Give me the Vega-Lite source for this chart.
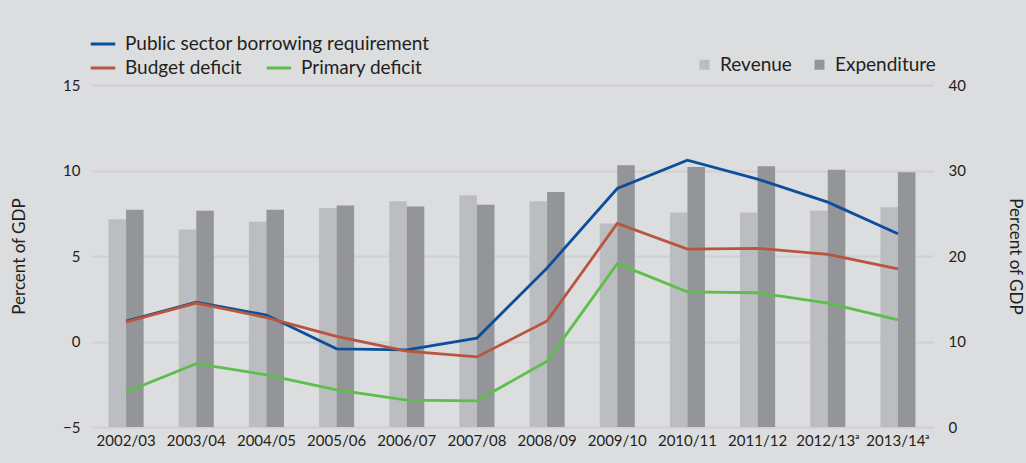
{
  "$schema": "https://vega.github.io/schema/vega-lite/v6.json",
  "width": 842,
  "height": 342,
  "autosize": {"type": "none"},
  "padding": {"left": 91, "top": 85, "right": 93, "bottom": 36},
  "background": "#dcdddf",
  "config": {
    "view": {"stroke": null},
    "font": "Lato",
    "axis": {"labelColor": "#231f20", "titleColor": "#231f20", "labelFont": "Lato", "titleFont": "Lato", "titleFontWeight": "normal", "domain": false, "ticks": false},
    "legend": {"labelColor": "#231f20", "labelFont": "Lato", "padding": 0, "labelLimit": 500}
  },
  "datasets": {
    "bars": [
      {"year": "2002/03", "series": "Revenue", "value": 24.3},
      {"year": "2002/03", "series": "Expenditure", "value": 25.4},
      {"year": "2003/04", "series": "Revenue", "value": 23.1},
      {"year": "2003/04", "series": "Expenditure", "value": 25.3},
      {"year": "2004/05", "series": "Revenue", "value": 24.0},
      {"year": "2004/05", "series": "Expenditure", "value": 25.4},
      {"year": "2005/06", "series": "Revenue", "value": 25.6},
      {"year": "2005/06", "series": "Expenditure", "value": 25.9},
      {"year": "2006/07", "series": "Revenue", "value": 26.4},
      {"year": "2006/07", "series": "Expenditure", "value": 25.8},
      {"year": "2007/08", "series": "Revenue", "value": 27.1},
      {"year": "2007/08", "series": "Expenditure", "value": 26.0},
      {"year": "2008/09", "series": "Revenue", "value": 26.4},
      {"year": "2008/09", "series": "Expenditure", "value": 27.5},
      {"year": "2009/10", "series": "Revenue", "value": 23.8},
      {"year": "2009/10", "series": "Expenditure", "value": 30.6},
      {"year": "2010/11", "series": "Revenue", "value": 25.1},
      {"year": "2010/11", "series": "Expenditure", "value": 30.4},
      {"year": "2011/12", "series": "Revenue", "value": 25.1},
      {"year": "2011/12", "series": "Expenditure", "value": 30.5},
      {"year": "2012/13ᵃ", "series": "Revenue", "value": 25.3},
      {"year": "2012/13ᵃ", "series": "Expenditure", "value": 30.1},
      {"year": "2013/14ᵃ", "series": "Revenue", "value": 25.7},
      {"year": "2013/14ᵃ", "series": "Expenditure", "value": 29.8}
    ],
    "psbr": [
      {"year": "2002/03", "series": "Public sector borrowing requirement", "value": 1.2},
      {"year": "2003/04", "series": "Public sector borrowing requirement", "value": 2.3},
      {"year": "2004/05", "series": "Public sector borrowing requirement", "value": 1.55},
      {"year": "2005/06", "series": "Public sector borrowing requirement", "value": -0.43},
      {"year": "2006/07", "series": "Public sector borrowing requirement", "value": -0.49},
      {"year": "2007/08", "series": "Public sector borrowing requirement", "value": 0.2},
      {"year": "2008/09", "series": "Public sector borrowing requirement", "value": 4.3},
      {"year": "2009/10", "series": "Public sector borrowing requirement", "value": 8.95},
      {"year": "2010/11", "series": "Public sector borrowing requirement", "value": 10.6},
      {"year": "2011/12", "series": "Public sector borrowing requirement", "value": 9.5},
      {"year": "2012/13ᵃ", "series": "Public sector borrowing requirement", "value": 8.15},
      {"year": "2013/14ᵃ", "series": "Public sector borrowing requirement", "value": 6.3}
    ],
    "deficits": [
      {"year": "2002/03", "series": "Budget deficit", "value": 1.15},
      {"year": "2003/04", "series": "Budget deficit", "value": 2.25},
      {"year": "2004/05", "series": "Budget deficit", "value": 1.4},
      {"year": "2005/06", "series": "Budget deficit", "value": 0.3},
      {"year": "2006/07", "series": "Budget deficit", "value": -0.56},
      {"year": "2007/08", "series": "Budget deficit", "value": -0.9},
      {"year": "2008/09", "series": "Budget deficit", "value": 1.2},
      {"year": "2009/10", "series": "Budget deficit", "value": 6.9},
      {"year": "2010/11", "series": "Budget deficit", "value": 5.4},
      {"year": "2011/12", "series": "Budget deficit", "value": 5.45},
      {"year": "2012/13ᵃ", "series": "Budget deficit", "value": 5.1},
      {"year": "2013/14ᵃ", "series": "Budget deficit", "value": 4.25},
      {"year": "2002/03", "series": "Primary deficit", "value": -2.95},
      {"year": "2003/04", "series": "Primary deficit", "value": -1.3},
      {"year": "2004/05", "series": "Primary deficit", "value": -1.95},
      {"year": "2005/06", "series": "Primary deficit", "value": -2.83},
      {"year": "2006/07", "series": "Primary deficit", "value": -3.43},
      {"year": "2007/08", "series": "Primary deficit", "value": -3.47},
      {"year": "2008/09", "series": "Primary deficit", "value": -1.15},
      {"year": "2009/10", "series": "Primary deficit", "value": 4.55},
      {"year": "2010/11", "series": "Primary deficit", "value": 2.9},
      {"year": "2011/12", "series": "Primary deficit", "value": 2.85},
      {"year": "2012/13ᵃ", "series": "Primary deficit", "value": 2.25},
      {"year": "2013/14ᵃ", "series": "Primary deficit", "value": 1.27}
    ]
  },
  "layer": [
    {
      "data": {"name": "bars"},
      "mark": {"type": "bar"},
      "encoding": {
        "x": {
          "field": "year", "type": "nominal", "sort": null,
          "scale": {"paddingInner": 0.5, "paddingOuter": 0.25},
          "axis": {"title": null, "labelAngle": 0, "labelFontSize": 15, "labelPadding": 6, "grid": false}
        },
        "xOffset": {"field": "series", "type": "nominal", "sort": ["Revenue", "Expenditure"], "scale": {"paddingInner": 0, "paddingOuter": 0}},
        "y": {
          "field": "value", "type": "quantitative",
          "scale": {"domain": [0, 40], "nice": false, "zero": false},
          "axis": {"orient": "right", "values": [0, 10, 20, 30, 40], "grid": false, "labelFontSize": 15, "labelPadding": 15, "title": "Percent of GDP", "titleFontSize": 17, "titlePadding": 40}
        },
        "color": {
          "field": "series", "type": "nominal",
          "scale": {"domain": ["Revenue", "Expenditure"], "range": ["#bcbdc0", "#939598"]},
          "legend": {"title": null, "orient": "none", "legendX": 604, "legendY": -30, "direction": "horizontal", "symbolType": "square", "symbolSize": 100, "symbolStrokeWidth": 0, "labelFontSize": 19, "labelOffset": 6, "columnPadding": 18}
        }
      }
    },
    {
      "layer": [
        {
          "data": {"name": "psbr"},
          "mark": {"type": "line", "strokeWidth": 2.8},
          "encoding": {
            "x": {"field": "year", "type": "nominal", "sort": null, "scale": {"paddingInner": 0.5, "paddingOuter": 0.25}, "axis": {"title": null, "labelAngle": 0, "labelFontSize": 15, "labelPadding": 6, "grid": false}},
            "y": {
              "field": "value", "type": "quantitative",
              "scale": {"domain": [-5, 15], "nice": false, "zero": false},
              "axis": {"orient": "left", "values": [-5, 0, 5, 10, 15], "grid": true, "gridColor": "#cfd0d2", "gridWidth": 2, "labelFontSize": 15, "labelPadding": 11, "title": "Percent of GDP", "titleFontSize": 17, "titlePadding": 34}
            },
            "color": {
              "field": "series", "type": "nominal",
              "scale": {"domain": ["Public sector borrowing requirement"], "range": ["#0b4f9c"]},
              "legend": {"title": null, "orient": "none", "legendX": -2, "legendY": -55, "symbolType": "stroke", "symbolSize": 600, "symbolStrokeWidth": 3, "labelFontSize": 19, "labelOffset": 8}
            }
          }
        },
        {
          "data": {"name": "deficits"},
          "mark": {"type": "line", "strokeWidth": 2.8},
          "encoding": {
            "x": {"field": "year", "type": "nominal", "sort": null, "scale": {"paddingInner": 0.5, "paddingOuter": 0.25}, "axis": {"title": null, "labelAngle": 0, "labelFontSize": 15, "labelPadding": 6, "grid": false}},
            "y": {
              "field": "value", "type": "quantitative",
              "scale": {"domain": [-5, 15], "nice": false, "zero": false},
              "axis": {"orient": "left", "values": [-5, 0, 5, 10, 15], "grid": true, "gridColor": "#cfd0d2", "gridWidth": 2, "labelFontSize": 15, "labelPadding": 11, "title": "Percent of GDP", "titleFontSize": 17, "titlePadding": 34}
            },
            "color": {
              "field": "series", "type": "nominal",
              "scale": {"domain": ["Budget deficit", "Primary deficit"], "range": ["#b9543f", "#5cbf4a"]},
              "legend": {"title": null, "orient": "none", "legendX": -2, "legendY": -31, "direction": "horizontal", "symbolType": "stroke", "symbolSize": 600, "symbolStrokeWidth": 3, "labelFontSize": 19, "labelOffset": 8, "columnPadding": 18}
            }
          }
        }
      ],
      "resolve": {"scale": {"color": "independent"}}
    }
  ],
  "resolve": {"scale": {"y": "independent", "color": "independent"}}
}
